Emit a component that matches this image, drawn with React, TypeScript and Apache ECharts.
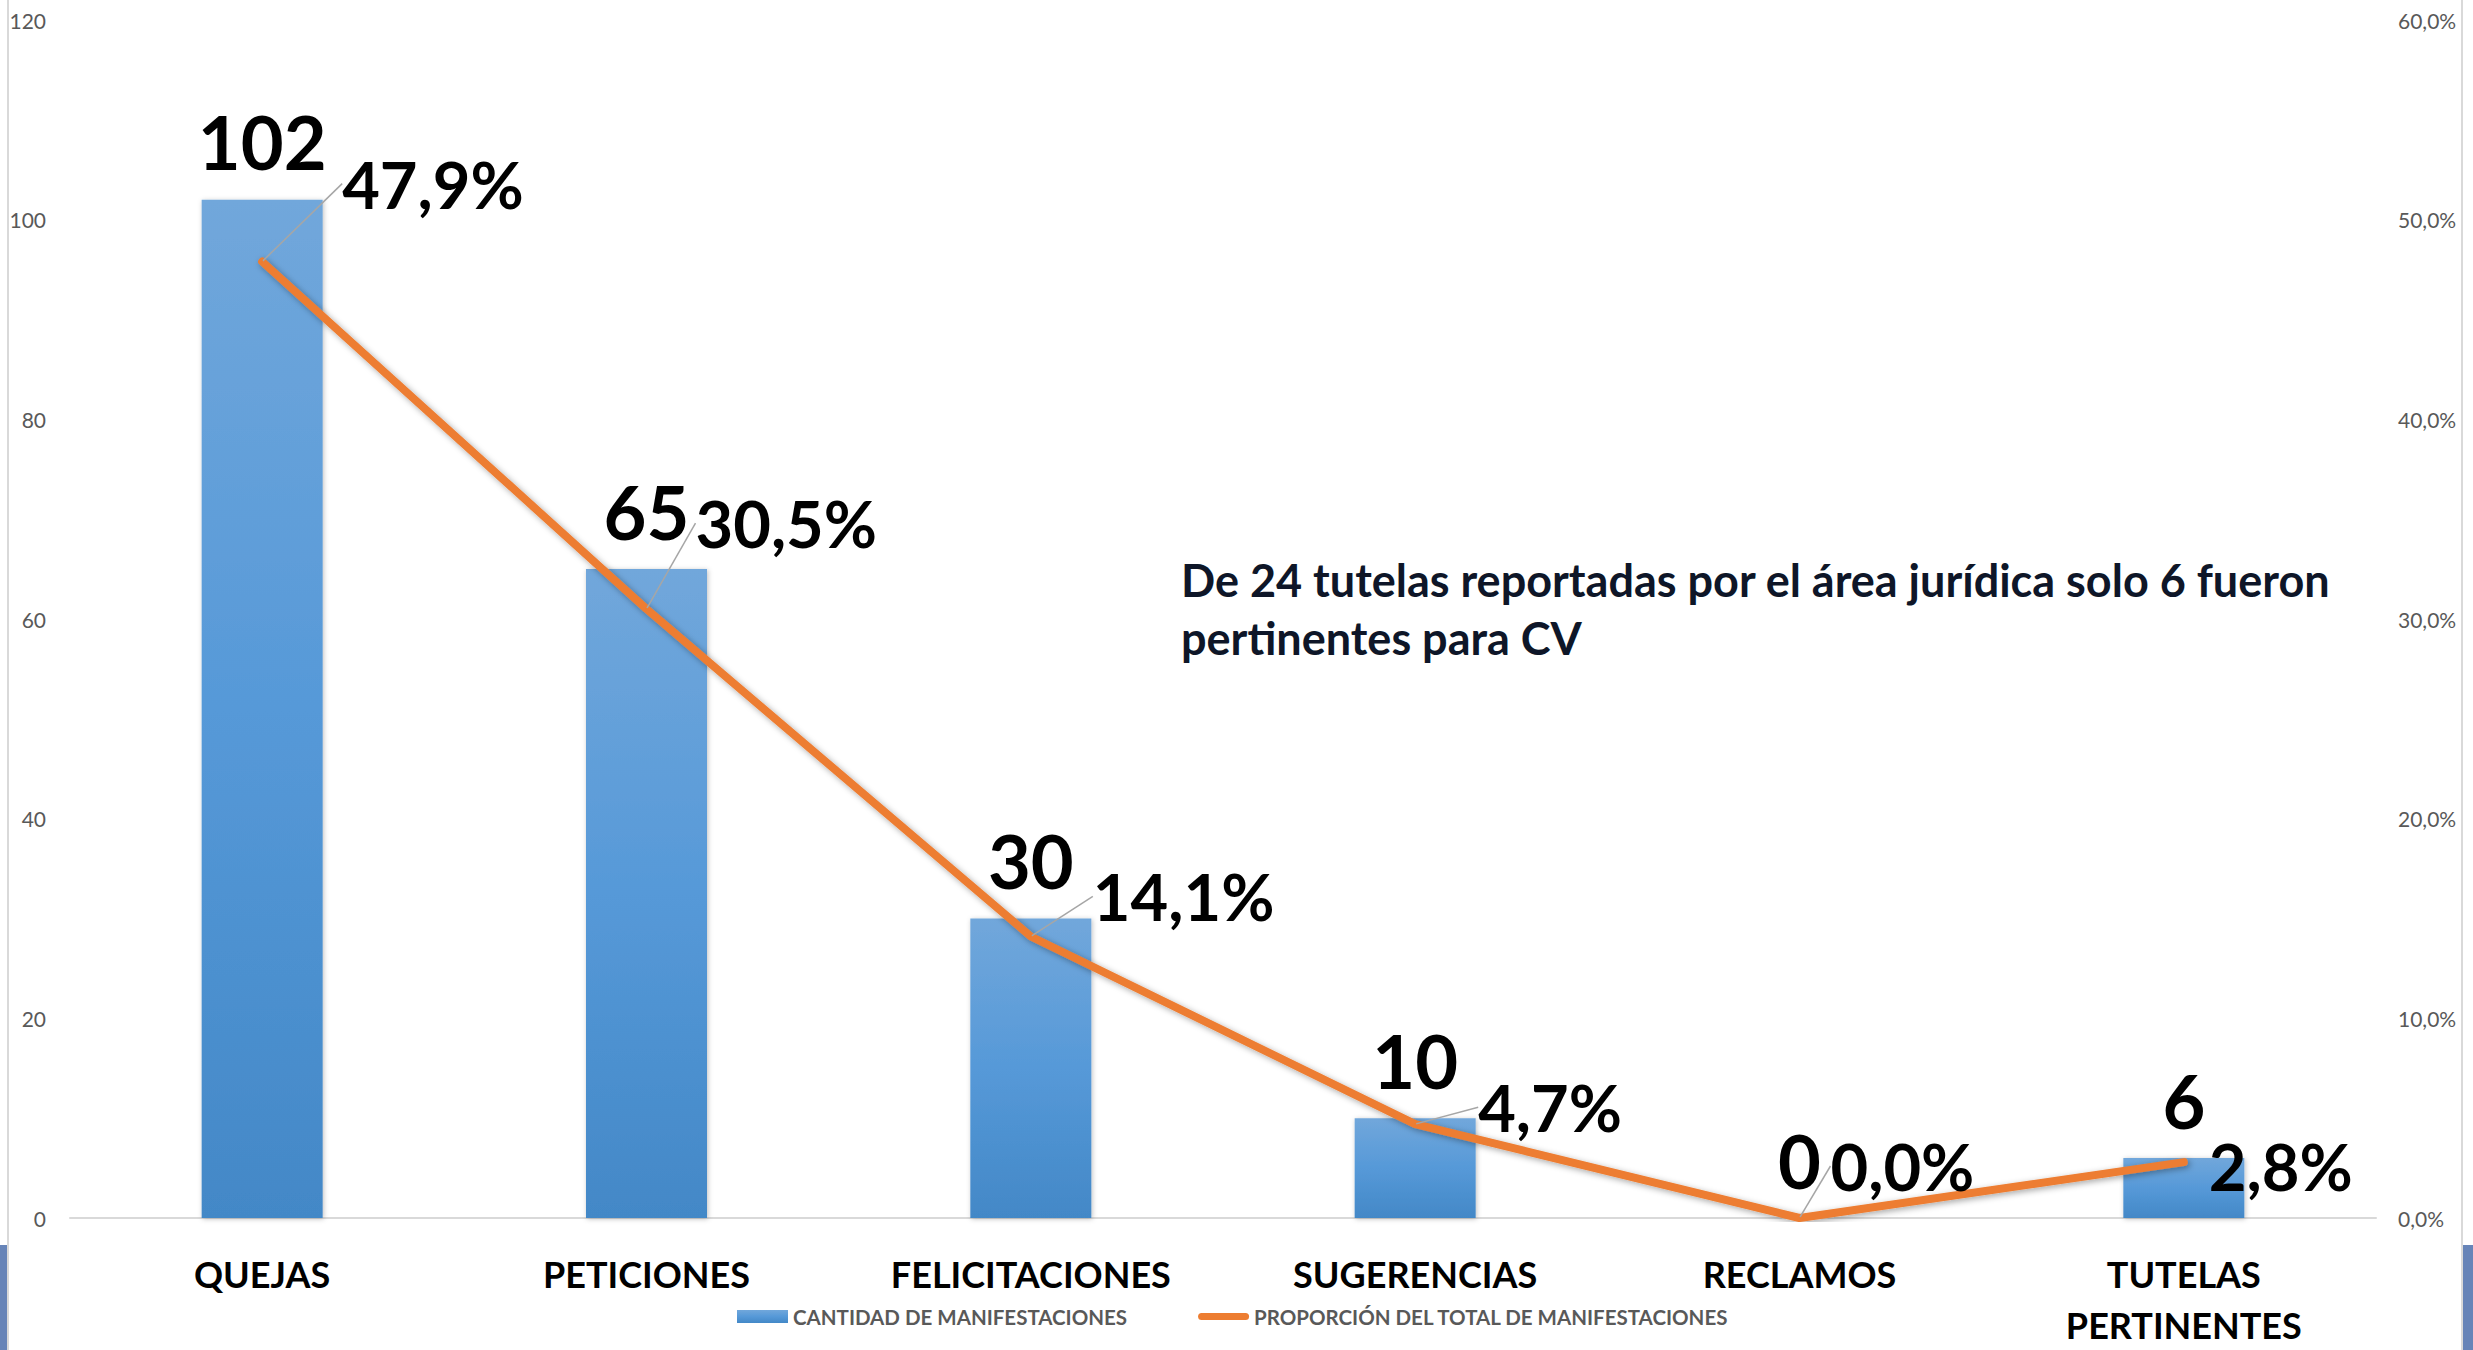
import React, { useEffect, useRef } from "react";
import * as echarts from "echarts";

const CATEGORIES = [
  "QUEJAS",
  "PETICIONES",
  "FELICITACIONES",
  "SUGERENCIAS",
  "RECLAMOS",
  "TUTELAS\nPERTINENTES",
];
const CANTIDAD = [102, 65, 30, 10, 0, 6];
const PROPORCION = [47.9, 30.5, 14.1, 4.7, 0.0, 2.8];
const SERIES_NAMES = ["CANTIDAD DE MANIFESTACIONES", "PROPORCIÓN DEL TOTAL DE MANIFESTACIONES"];
const NOTE = "De 24 tutelas reportadas por el área jurídica solo 6 fueron\npertinentes para CV";

// label displacement for the percentage labels (layout, not data)
const PCT_DX = [79, 48, 61, 62, 30, 24];
const PCT_DY = [-78, -86, -40, -17, -52, 4];
const PCT_LEADER = [true, true, true, true, true, false];

const FONT = "Lato, 'Open Sans', sans-serif";

const fmtPct = (v: number) => v.toFixed(1).replace(".", ",") + "%";

export default function App() {
  const ref = useRef<HTMLDivElement>(null);
  useEffect(() => {
    document.body.style.margin = "0";
    const chart = echarts.init(ref.current!, null, { renderer: "svg" });
    const option: any = {
      animation: false,
      backgroundColor: "#ffffff",
      grid: { left: 70, right: 97, top: 20, bottom: 132 },
      legend: {
        left: 732,
        top: 1301,
        itemWidth: 51,
        itemHeight: 13,
        itemGap: 71,
        textStyle: {
          fontFamily: FONT,
          fontSize: 20.5,
          color: "#595959",
          fontWeight: "bold",
        },
        data: [
          { name: SERIES_NAMES[0], icon: "rect" },
          {
            name: SERIES_NAMES[1],
            icon: "path://M4,0 L53,0 A4,4 0 0 1 53,8 L4,8 A4,4 0 0 1 4,0 Z",
            itemStyle: { color: "#ed7d31" },
          },
        ],
      },
      xAxis: {
        type: "category",
        data: CATEGORIES,
        axisLine: { show: true, lineStyle: { color: "#d9d9d9", width: 2 } },
        axisTick: { show: false },
        axisLabel: {
          interval: 0,
          margin: 30,
          fontFamily: FONT,
          fontSize: 36,
          fontWeight: "bold",
          color: "#000000",
          lineHeight: 51,
        },
      },
      yAxis: [
        {
          type: "value",
          min: 0,
          max: 120,
          interval: 20,
          splitLine: { show: false },
          axisLine: { show: false },
          axisTick: { show: false },
          axisLabel: { margin: 24, fontFamily: FONT, fontSize: 21, color: "#595959" },
        },
        {
          type: "value",
          min: 0,
          max: 60,
          interval: 10,
          position: "right",
          splitLine: { show: false },
          axisLine: { show: false },
          axisTick: { show: false },
          axisLabel: {
            margin: 22,
            fontFamily: FONT,
            fontSize: 21,
            color: "#595959",
            formatter: (v: number) => fmtPct(v),
          },
        },
      ],
      series: [
        {
          name: SERIES_NAMES[0],
          type: "bar",
          yAxisIndex: 0,
          data: CANTIDAD,
          barWidth: 121,
          itemStyle: {
            color: new echarts.graphic.LinearGradient(0, 0, 0, 1, [
              { offset: 0, color: "#71a7db" },
              { offset: 0.5, color: "#5699d8" },
              { offset: 1, color: "#4388c7" },
            ]),
            shadowBlur: 5,
            shadowColor: "rgba(0,0,0,0.25)",
            shadowOffsetX: 1,
            shadowOffsetY: 1,
          },
          label: {
            show: true,
            position: "top",
            distance: 21,
            fontFamily: FONT,
            fontSize: 74,
            fontWeight: "bold",
            color: "#000000",
          },
          z: 2,
        },
        {
          name: SERIES_NAMES[1],
          type: "line",
          yAxisIndex: 1,
          data: PROPORCION.map((v, i) => ({
            value: v,
            labelLine: { show: PCT_LEADER[i] },
          })),
          symbol: "circle",
          symbolSize: 2,
          showSymbol: true,
          lineStyle: {
            color: "#ed7d31",
            width: 8,
            cap: "round",
            join: "round",
            shadowBlur: 6,
            shadowColor: "rgba(0,0,0,0.35)",
            shadowOffsetX: 2,
            shadowOffsetY: 2,
          },
          itemStyle: { color: "#ed7d31" },
          label: {
            show: true,
            position: "right",
            distance: 0,
            fontFamily: FONT,
            fontSize: 65,
            fontWeight: "bold",
            color: "#000000",
            formatter: (p: any) => fmtPct(p.value),
          },
          labelLine: {
            show: true,
            lineStyle: { color: "#a6a6a6", width: 1.5 },
          },
          labelLayout: (p: any) => ({ dx: PCT_DX[p.dataIndex], dy: PCT_DY[p.dataIndex] }),
          z: 3,
        },
      ],
      graphic: [
        {
          type: "line",
          shape: { x1: 8, y1: 0, x2: 8, y2: 1350 },
          style: { stroke: "#d9d9d9", lineWidth: 2 },
          silent: true,
        },
        {
          type: "line",
          shape: { x1: 2462, y1: 0, x2: 2462, y2: 1350 },
          style: { stroke: "#d9d9d9", lineWidth: 2 },
          silent: true,
        },
        {
          type: "rect",
          shape: { x: 0, y: 1245, width: 7, height: 105 },
          style: { fill: "#6784b8" },
          silent: true,
        },
        {
          type: "rect",
          shape: { x: 2463, y: 1245, width: 10, height: 105 },
          style: { fill: "#6784b8" },
          silent: true,
        },
        {
          type: "text",
          left: 1181,
          top: 551,
          style: {
            text: NOTE,
            font: "bold 45px " + FONT,
            fill: "#0e1628",
            lineHeight: 58,
          },
          z: 10,
        },
      ],
    };
    chart.setOption(option);
    return () => chart.dispose();
  }, []);
  return (
    <div
      ref={ref}
      style={{ position: "fixed", left: 0, top: 0, width: 2473, height: 1350 }}
    />
  );
}
